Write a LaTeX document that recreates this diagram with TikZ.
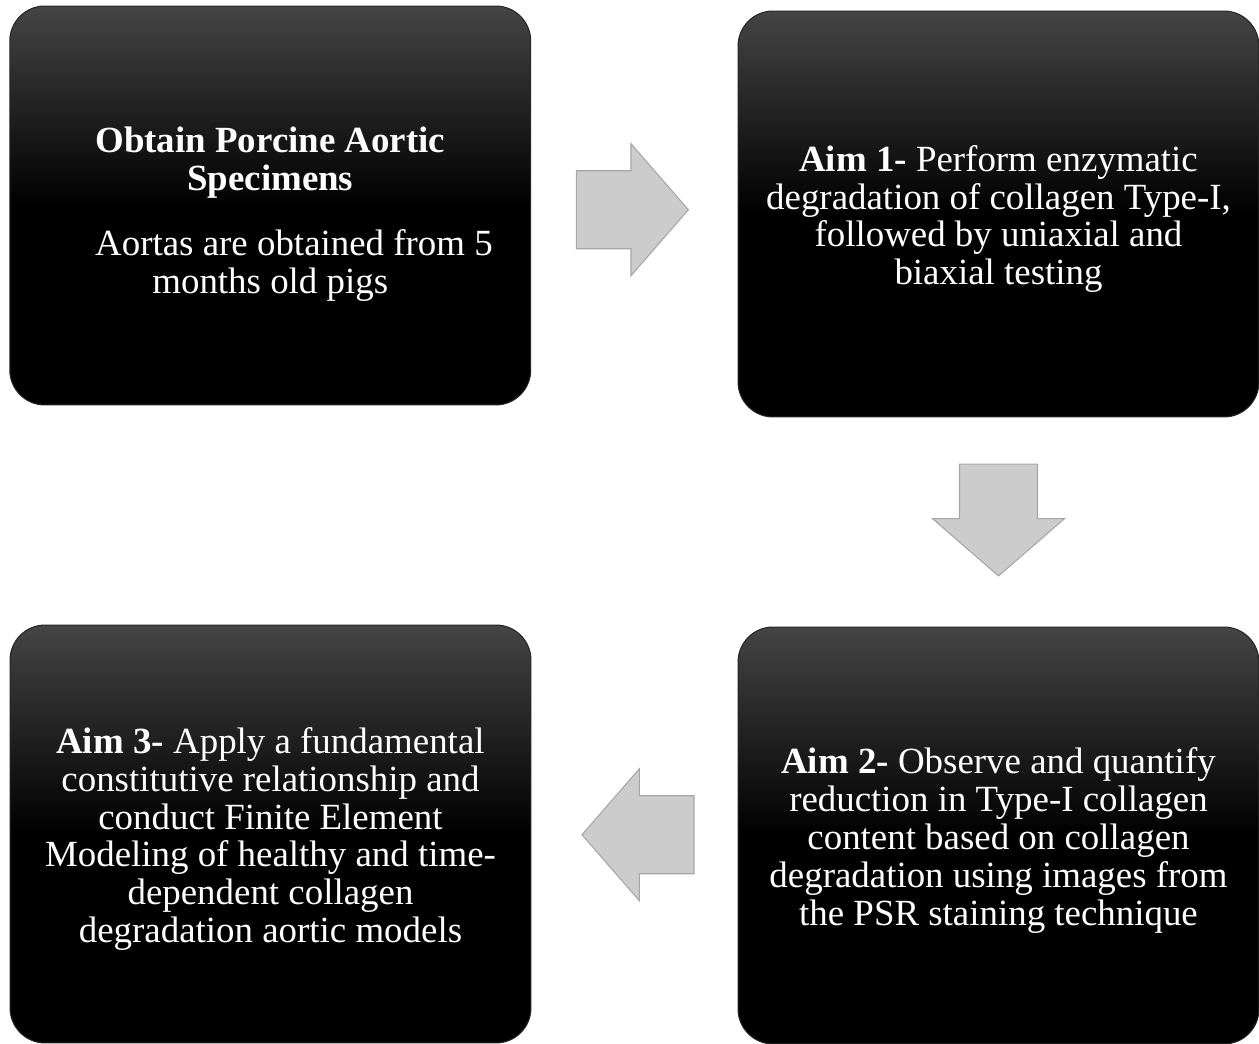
\documentclass[tikz,border=0pt]{standalone}
\usepackage{fontspec}
\setmainfont{Liberation Serif}
\usetikzlibrary{positioning}
\usetikzlibrary{calc}
\usetikzlibrary{shapes.arrows}
\tikzset{aimbox/.style = {draw=black!85, line width=0.6pt, rounded corners=0.7cm,
    top color=black!73, bottom color=black, middle color=black,
    inner sep=0, minimum width=10.42cm}}
\tikzset{aimtext/.style = {text=white, align=center, inner sep=0,
    font=\fontsize{21}{21.6}\selectfont}}
\tikzset{flowarrow/.style = {single arrow, draw=black!35, fill=black!20, line width=0.6pt,
    inner xsep=0, inner ysep=0.77cm, minimum height=2.24cm, anchor=tail,
    single arrow head extend=0.54cm, single arrow tip angle=98}}

\begin{document}
\begin{tikzpicture}[x=0.02cm, y=-0.02cm]
      \useasboundingbox (0,0) rectangle (1259,1044);
      \node[aimbox, minimum height=7.98cm] (obtain) at (270.25,205.5) {};
      \node[aimbox, minimum height=8.12cm] (aim1) at (998.5,214) {};
      \node[aimbox, minimum height=8.34cm] (aim2) at (998.5,835.5) {};
      \node[aimbox, minimum height=8.36cm] (aim3) at (270.5,834) {};
      \node[aimtext, yshift=-0.17cm] (obtaintxt) at (obtain)
        {\textbf{Obtain Porcine Aortic}\\\textbf{Specimens}\\[0.54cm]
         \hspace*{0.95cm}Aortas are obtained from 5\\months old pigs};
      \node[aimtext, yshift=-0.1cm] (aim1txt) at (aim1)
        {\textbf{Aim 1-} Perform enzymatic\\degradation of collagen Type-I,\\
         followed by uniaxial and\\biaxial testing};
      \node[aimtext, yshift=-0.1cm] (aim2txt) at (aim2)
        {\textbf{Aim 2-} Observe and quantify\\reduction in Type-I collagen\\
         content based on collagen\\degradation using images from\\
         the PSR staining technique};
      \node[aimtext, yshift=-0.1cm] (aim3txt) at (aim3)
        {\textbf{Aim 3-} Apply a fundamental\\constitutive relationship and\\
         conduct Finite Element\\Modeling of healthy and time-\\
         dependent collagen\\degradation aortic models};
      % block arrows between the boxes
      \coordinate (mid1) at ($(obtain.east)!0.5!(aim1.west)$);
      \coordinate (mid2) at ($(aim1.south)!0.5!(aim2.north)$);
      \coordinate (mid3) at ($(aim2.west)!0.5!(aim3.east)$);
      \node[flowarrow] (arr1) at ($(mid1)+(-58.5,0)$) {};
      \node[flowarrow, rotate=-90] (arr2) at ($(mid2)+(0,-58.5)$) {};
      \node[flowarrow, rotate=180] (arr3) at ($(mid3)+(60,0)$) {};
\end{tikzpicture}
\end{document}
